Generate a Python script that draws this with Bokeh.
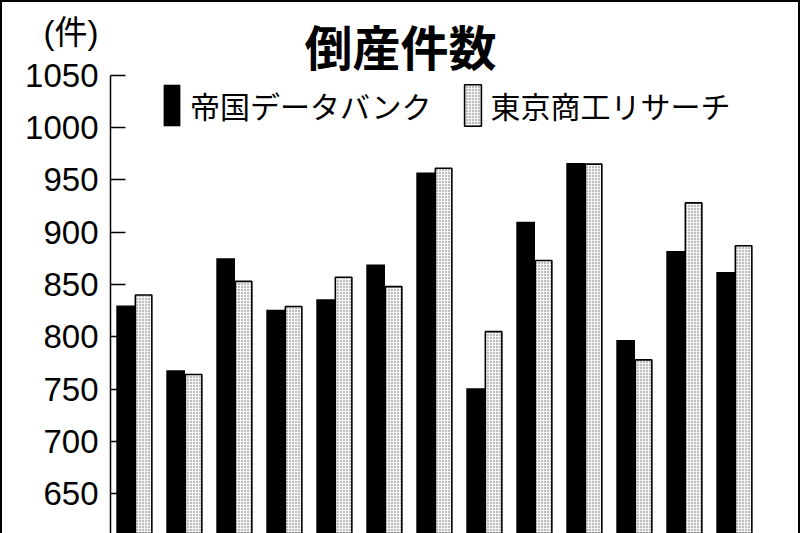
import numpy as np
from bokeh.plotting import figure
from bokeh.models import ColumnDataSource, Range1d, FixedTicker, Legend, LegendItem, Label, LinearAxis
from bokeh.transform import dodge
from bokeh.embed import file_html
from bokeh.resources import INLINE

# --- data ---
periods = list(range(13))
teikoku = [830, 768, 875, 826, 836, 869, 957, 751, 910, 966, 797, 882, 862]
tsr = [840, 764, 853, 829, 857, 848, 961, 805, 873, 965, 778, 928, 887]
y_ticks = [650, 700, 750, 800, 850, 900, 950, 1000, 1050]
series_names = ["帝国データバンク", "東京商工リサーチ"]
title_text = "倒産件数"
unit_text = "(件)"
unit_pos = 1091

src = ColumnDataSource(dict(x=periods, a=teikoku, b=tsr))

CJK = "Noto Sans CJK JP"

p = figure(width=800, height=533, output_backend="svg", toolbar_location=None,
           x_range=Range1d(-0.49, 13.31), y_range=Range1d(612.2, 1121.25),
           min_border_left=110, min_border_right=0, min_border_top=0, min_border_bottom=0)
# thin black frame around the picture (top, left, right), drawn behind a transparent canvas
p.styles = {"box-shadow": "inset 2px 2px 0 0 black, inset -2px 0 0 0 black",
            "background-color": "white"}
p.xaxis.visible = False
p.xgrid.visible = False
p.ygrid.visible = False
p.outline_line_color = None
p.background_fill_color = None
p.border_fill_color = None

r1 = p.vbar(x=dodge("x", -0.187, range=p.x_range), top="a", bottom=600, width=0.374,
            source=src, fill_color="black", line_color=None)
r2 = p.vbar(x=dodge("x", 0.172, range=p.x_range), top="b", bottom=600, width=0.33,
            source=src, fill_color="#f6f6f6", line_color="black", line_width=1.6,
            hatch_pattern="dot", hatch_scale=3, hatch_color="#666666", hatch_weight=1)

# inner axis: line + inward ticks only
ax = p.yaxis[0]
ax.ticker = FixedTicker(ticks=y_ticks)
ax.bounds = (600, 1050)
ax.major_tick_in = 15
ax.major_tick_out = 0
ax.minor_tick_in = 0
ax.minor_tick_out = 0
ax.axis_line_width = 1.5
ax.major_tick_line_width = 1.5
ax.axis_line_color = "black"
ax.major_tick_line_color = "black"
ax.major_label_standoff = 0
ax.major_label_text_font_size = "0px"
ax.major_label_overrides = {t: "" for t in y_ticks}

# outer axis: the tick labels and the unit label
ax2 = LinearAxis(ticker=FixedTicker(ticks=y_ticks + [unit_pos]),
                 major_label_overrides={unit_pos: unit_text})
ax2.axis_line_color = None
ax2.major_tick_line_color = None
ax2.minor_tick_line_color = None
ax2.major_tick_in = 0
ax2.major_tick_out = 0
ax2.minor_tick_in = 0
ax2.minor_tick_out = 0
ax2.major_label_standoff = 12
ax2.major_label_text_font = "Liberation Sans, 'Noto Sans CJK JP'"
ax2.major_label_text_font_size = "33px"
ax2.major_label_text_color = "black"
p.add_layout(ax2, "left")

legend = Legend(items=[LegendItem(label=series_names[0], renderers=[r1]),
                       LegendItem(label=series_names[1], renderers=[r2])],
                orientation="horizontal", location=(51, 402),
                glyph_width=21, glyph_height=52, label_standoff=8, spacing=30,
                padding=0, margin=0, border_line_color=None, background_fill_alpha=0,
                label_text_font=CJK, label_text_font_size="30px", label_height=52,
                label_text_color="black")
p.add_layout(legend, "center")

p.add_layout(Label(x=290, y=489, x_units="screen", y_units="screen", text=title_text,
                   text_font=CJK, text_font_size="48px", text_font_style="bold",
                   text_align="center", text_baseline="middle", text_color="black"))

open("out.html", "w").write(file_html(p, INLINE))
